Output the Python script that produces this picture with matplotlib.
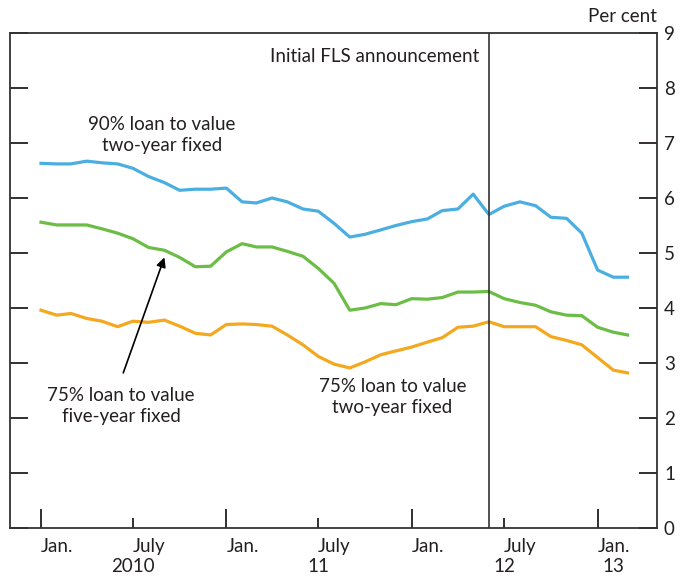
import matplotlib
matplotlib.use('Agg')
import matplotlib.pyplot as plt
import matplotlib.transforms as mtransforms
import pandas as pd

# Monthly quoted mortgage rates, Jan 2010 - Mar 2013 (per cent)
months = pd.date_range('2010-01-01', '2013-03-01', freq='MS')

ltv90_2yr = [6.63, 6.62, 6.62, 6.67, 6.64, 6.62, 6.54, 6.39, 6.28, 6.14,
             6.16, 6.16, 6.18, 5.93, 5.91, 6.00, 5.93, 5.80, 5.76, 5.54,
             5.29, 5.34, 5.42, 5.50, 5.57, 5.62, 5.77, 5.80, 6.07, 5.70,
             5.85, 5.93, 5.86, 5.65, 5.63, 5.36, 4.69, 4.56, 4.56]

ltv75_5yr = [5.56, 5.51, 5.51, 5.51, 5.44, 5.36, 5.26, 5.10, 5.05, 4.92,
             4.75, 4.76, 5.02, 5.17, 5.11, 5.11, 5.03, 4.94, 4.72, 4.45,
             3.96, 4.00, 4.08, 4.06, 4.17, 4.16, 4.19, 4.29, 4.29, 4.30,
             4.17, 4.10, 4.05, 3.93, 3.87, 3.86, 3.65, 3.56, 3.51]

ltv75_2yr = [3.96, 3.87, 3.90, 3.81, 3.76, 3.66, 3.76, 3.74, 3.78, 3.67,
             3.54, 3.51, 3.70, 3.71, 3.70, 3.67, 3.51, 3.33, 3.12, 2.98,
             2.91, 3.02, 3.15, 3.22, 3.29, 3.38, 3.46, 3.65, 3.67, 3.75,
             3.66, 3.66, 3.66, 3.48, 3.41, 3.33, 3.10, 2.87, 2.82]

fls_date = pd.Timestamp('2012-06-01')

jan_ticks = pd.to_datetime(['2010-01-01', '2011-01-01', '2012-01-01', '2013-01-01'])
july_ticks = pd.to_datetime(['2010-07-01', '2011-07-01', '2012-07-01'])
year_labels = ['2010', '11', '12', '13']
year_pos = pd.to_datetime(['2010-07-01', '2011-07-01', '2012-07-01', '2013-02-01'])

blue = '#4aafe0'
green = '#6bbd45'
orange = '#f4a81d'
txt = '#231f20'
fs = 13.5

plt.rcParams['font.family'] = ['Lato', 'DejaVu Sans']
plt.rcParams['font.size'] = fs

fig = plt.figure(figsize=(6.81, 5.81), dpi=100)
ax = fig.add_axes([10 / 681, 53 / 581, 647 / 681, 495 / 581])

ax.plot(months, ltv90_2yr, color=blue, lw=2.3)
ax.plot(months, ltv75_5yr, color=green, lw=2.3)
ax.plot(months, ltv75_2yr, color=orange, lw=2.3)

ax.axvline(fls_date, color='#333333', lw=1.2)

ax.set_xlim(pd.Timestamp('2009-11-01'), pd.Timestamp('2013-04-28'))
ax.set_ylim(0, 9)

# y axis: ticks both sides, labels on right
ax.set_yticks(range(0, 10))
ax.tick_params(axis='y', which='both', direction='in', left=True, right=True,
               labelleft=False, labelright=True, length=13, width=1.3,
               pad=5, colors=txt, labelsize=fs)

# x axis: long ticks at Jan, short at July, labels start at the tick
ax.set_xticks(jan_ticks)
ax.set_xticklabels(['Jan.'] * len(jan_ticks))
ax.set_xticks(july_ticks, minor=True)
ax.set_xticklabels(['July'] * len(july_ticks), minor=True)
ax.tick_params(axis='x', which='major', direction='in', length=14, width=1.3,
               pad=7, colors=txt, labelsize=fs)
ax.tick_params(axis='x', which='minor', direction='in', length=7, width=1.3,
               pad=7, colors=txt, labelsize=fs)
for lab in ax.get_xticklabels(which='both'):
    lab.set_horizontalalignment('left')

for s in ax.spines.values():
    s.set_linewidth(1.3)
    s.set_color('#333333')

# year labels below the month labels
trans = mtransforms.blended_transform_factory(ax.transData, ax.transAxes)
for pos, lab in zip(year_pos, year_labels):
    ax.text(pos, -0.078, lab, transform=trans, ha='center', va='center',
            color=txt, fontsize=fs)

ax.text(1.0, 1.034, 'Per cent', transform=ax.transAxes, ha='right',
        va='center', color=txt, fontsize=fs)

# annotations
ax.annotate('Initial FLS announcement', xy=(fls_date, 8.58), xytext=(-7, 0),
            textcoords='offset points', ha='right', va='center', color=txt)

ax.text(pd.Timestamp('2010-08-27'), 7.15, '90% loan to value\ntwo-year fixed',
        ha='center', va='center', color=txt, linespacing=1.3)

ax.text(pd.Timestamp('2010-06-08'), 2.22, '75% loan to value\nfive-year fixed',
        ha='center', va='center', color=txt, linespacing=1.3)

ax.text(pd.Timestamp('2011-11-24'), 2.38, '75% loan to value\ntwo-year fixed',
        ha='center', va='center', color=txt, linespacing=1.3)

ax.annotate('', xy=(pd.Timestamp('2010-09-01'), 4.92),
            xytext=(pd.Timestamp('2010-06-12'), 2.82),
            arrowprops=dict(arrowstyle='-|>', color='black', lw=1.2,
                            mutation_scale=14, shrinkA=0, shrinkB=0))

fig.savefig('out.png', dpi=100)
